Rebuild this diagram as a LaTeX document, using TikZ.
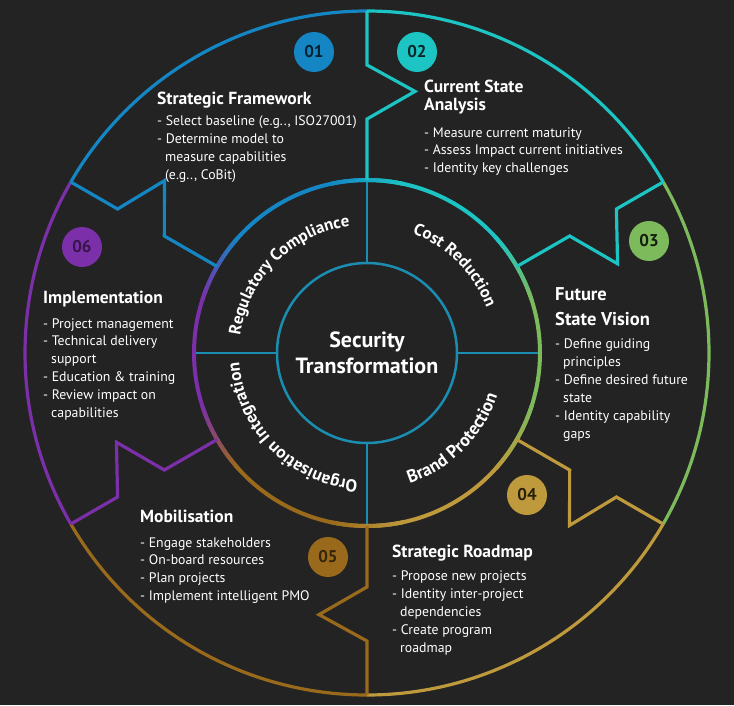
\documentclass[tikz,border=0pt]{standalone}
\usepackage{fontspec}
\setmainfont{PT Sans}
\usetikzlibrary{decorations.text}
\definecolor{bg}{HTML}{232323}
\definecolor{cA}{HTML}{1586C4}
\definecolor{cB}{HTML}{1CC4C4}
\definecolor{cC}{HTML}{7DBA5C}
\definecolor{cD}{HTML}{BE9A3C}
\definecolor{cE}{HTML}{9A6A1C}
\definecolor{cF}{HTML}{7B2FA8}
\definecolor{hub}{HTML}{1B8DB0}
\newcommand\blk[1]{\begin{tabular}[t]{@{}l@{}}#1\end{tabular}}
\newcommand\ind{\hspace*{8pt}}
\newcommand\bnd[2]{\draw[seg,#2] (#1:342) -- (#1:288) -- ({#1-10.4}:266) -- (#1:234) -- (#1:173);}
\newcommand\blend[3]{%
  \foreach \k in {0,...,11}{%
    \pgfmathsetmacro\st{#1-12+2*\k}%
    \pgfmathsetmacro\pc{100*(\k+0.5)/12}%
    \draw[ring,#2!\pc!#3] (\st:173) arc[start angle=\st,end angle=\st+2.3,radius=173];
  }}
\begin{document}
\begin{tikzpicture}[x=1pt,y=1pt,line join=miter,
  seg/.style={line width=3.2pt},
  ring/.style={line width=4pt},
  numc/.style={circle,minimum size=40pt,inner sep=0pt,font=\fontsize{17}{17}\selectfont\bfseries},
  ttl/.style={anchor=base west,inner sep=0pt,text=white,font=\fontsize{17.5}{18.3}\selectfont\bfseries},
  bul/.style={anchor=base west,inner sep=0pt,text=white,font=\fontsize{13.8}{18.2}\selectfont},
  ringtxt/.style 2 args={decorate,decoration={text along path,text align=center,text color=white,
     text={|\fontsize{#1}{#1}\selectfont\bfseries|#2}}}
]
\fill[bg] (-367,-352) rectangle (367,353);
\useasboundingbox (-367,-352) rectangle (367,353);

% outer arcs
\draw[seg,cA] (150:342) arc[start angle=150,end angle=90,radius=342];
\draw[seg,cB] (90:342) arc[start angle=90,end angle=30,radius=342];
\draw[seg,cC] (30:342) arc[start angle=30,end angle=-30,radius=342];
\draw[seg,cD] (-30:342) arc[start angle=-30,end angle=-90,radius=342];
\draw[seg,cE] (-90:342) arc[start angle=-90,end angle=-150,radius=342];
\draw[seg,cF] (210:342) arc[start angle=210,end angle=150,radius=342];

% middle ring
\draw[ring,cA] (150:173) arc[start angle=150,end angle=90,radius=173];
\draw[ring,cB] (90:173) arc[start angle=90,end angle=30,radius=173];
\draw[ring,cC] (30:173) arc[start angle=30,end angle=-30,radius=173];
\draw[ring,cD] (-30:173) arc[start angle=-30,end angle=-90,radius=173];
\draw[ring,cE] (-90:173) arc[start angle=-90,end angle=-150,radius=173];
\draw[ring,cF] (210:173) arc[start angle=210,end angle=150,radius=173];
\blend{150}{cF}{cA}
\blend{90}{cA}{cB}
\blend{30}{cB}{cC}
\blend{-30}{cC}{cD}
\blend{-90}{cD}{cE}
\blend{-150}{cE}{cF}

% boundaries
\bnd{150}{cA}
\bnd{210}{cF}
\bnd{270}{cE}
\bnd{-30}{cD}
\bnd{30}{cB}
\bnd{90}{cB}

% hub
\draw[hub,line width=2.5pt] (0,0) circle[radius=90];
\foreach \a in {0,90,180,270} \draw[hub,line width=2pt] (\a:90) -- (\a:171);

% ring labels
\path[ringtxt={16.8}{Regulatory Compliance}] (180:128) arc[start angle=180,end angle=90,radius=128];
\path[ringtxt={16.8}{Cost Reduction}] (90:128) arc[start angle=90,end angle=0,radius=128];
\path[ringtxt={17.4}{Organisation Integration}] (270:128) arc[start angle=270,end angle=180,radius=128];
\path[ringtxt={17.8}{Brand Protection}] (270:137) arc[start angle=270,end angle=360,radius=137];

\node[anchor=base,inner sep=0pt,text=white,font=\fontsize{22}{26}\selectfont\bfseries] (ctr) at (0,6)
  {\begin{tabular}[t]{@{}c@{}}Security\\Transformation\end{tabular}};

% numbers
\node[numc,fill=cA,text=cA!25!black] (n1) at (-53,301) {01};
\node[numc,fill=cB,text=cB!20!black] (n2) at (50,301) {02};
\node[numc,fill=cC,text=cC!15!black] (n3) at (282,112) {03};
\node[numc,fill=cD,text=cD!20!black] (n4) at (160,-142) {04};
\node[numc,fill=cE,text=cE!35!black] (n5) at (-39,-204) {05};
\node[numc,fill=cF,text=cF!45!black] (n6) at (-285,106) {06};

% text blocks
\node[ttl] (t1) at (-210,248) {Strategic Framework};
\node[bul] (b1) at (-210,228) {\blk{- Select baseline (e.g.., ISO27001)\\- Determine model to\\\ind measure capabilities\\\ind (e.g.., CoBit)}};

\node[ttl] (t2) at (57,261) {\blk{Current State\\Analysis}};
\node[bul,font=\fontsize{13.8}{17.6}\selectfont] (b2) at (57,216) {\blk{- Measure current maturity\\- Assess Impact current initiatives\\- Identity key challenges}};

\node[ttl,font=\fontsize{18.5}{25}\selectfont\bfseries] (t3) at (188,53) {\blk{Future\\State Vision}};
\node[bul,font=\fontsize{13.8}{18}\selectfont] (b3) at (188,5) {\blk{- Define guiding\\\ind principles\\- Define desired future\\\ind state\\- Identity capability\\\ind gaps}};

\node[ttl] (t4) at (25,-204) {Strategic Roadmap};
\node[bul,font=\fontsize{13.8}{18}\selectfont] (b4) at (25,-227) {\blk{- Propose new projects\\- Identity inter-project\\\ind dependencies\\- Create program\\\ind roadmap}};

\node[ttl] (t5) at (-227,-169) {Mobilisation};
\node[bul,font=\fontsize{13.8}{17.7}\selectfont] (b5) at (-227,-194) {\blk{- Engage stakeholders\\- On-board resources\\- Plan projects\\- Implement intelligent PMO}};

\node[ttl] (t6) at (-324,50) {Implementation};
\node[bul,font=\fontsize{13.8}{17.8}\selectfont] (b6) at (-324,25) {\blk{- Project management\\- Technical delivery\\\ind support\\- Education \& training\\- Review impact on\\\ind capabilities}};
\end{tikzpicture}
\end{document}
